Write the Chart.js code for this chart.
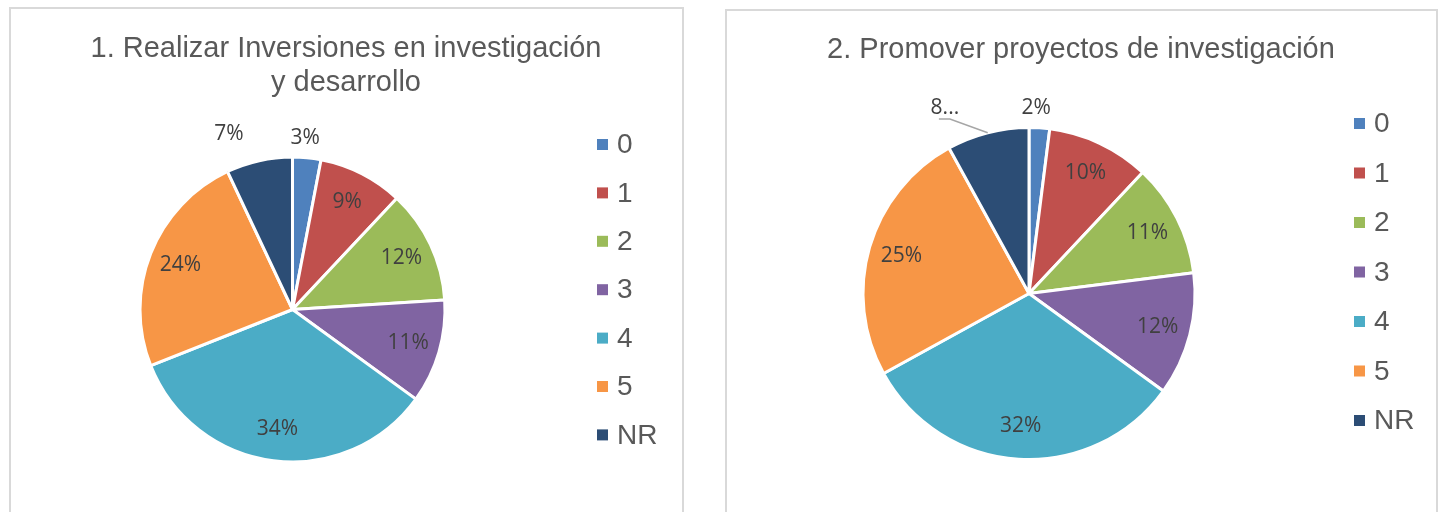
<!DOCTYPE html>
<html>
<head>
<meta charset="utf-8">
<script src="https://cdn.jsdelivr.net/npm/chart.js@4"></script>
<style>
  html, body { margin:0; padding:0; background:#fff; width:1440px; height:512px; overflow:hidden; }
  #wrap { position:relative; width:1440px; height:512px; }
  .box { position:absolute; border:2px solid #D9D9D9; box-sizing:border-box; background:#fff; }
  canvas { position:absolute; left:0; top:0; }
</style>
</head>
<body>
<div id="wrap">
  <div class="box" style="left:9px;top:7px;width:675px;height:560px;"></div>
  <div class="box" style="left:725px;top:9px;width:713px;height:560px;"></div>
  <canvas id="c1" width="1440" height="512"></canvas>
  <canvas id="c2" width="1440" height="512"></canvas>
</div>
<script>
// ---- data ----
const categories = ['0', '1', '2', '3', '4', '5', 'NR'];
const values1 = [3, 9, 12, 11, 34, 24, 7];
const values2 = [2, 10, 11, 12, 32, 25, 8];
const title1 = ['1. Realizar Inversiones en investigación', 'y desarrollo'];
const title2 = ['2. Promover proyectos de investigación'];
const colors = ['#4F81BD', '#C0504D', '#9BBB59', '#8064A2', '#4BACC6', '#F79646', '#2C4D75'];

// ---- custom drawing plugin (title, legend, data labels) ----
const decor = {
  id: 'decor',
  afterDatasetsDraw(chart, args, o) {
    const ctx = chart.ctx;
    ctx.save();
    // title
    ctx.fillStyle = '#595959';
    ctx.font = o.titleFont;
    ctx.textAlign = 'center';
    ctx.textBaseline = 'alphabetic';
    o.title.forEach((t, i) => ctx.fillText(t, o.titleX, o.titleY + i * o.titleLH));
    // legend
    ctx.textAlign = 'left';
    ctx.textBaseline = 'middle';
    ctx.font = '28px "Liberation Sans", Arial, sans-serif';
    chart.data.labels.forEach((lab, i) => {
      const y = o.legY + i * o.legStep;
      ctx.fillStyle = chart.data.datasets[0].backgroundColor[i];
      ctx.fillRect(o.legX, y - 5.5, 11, 11);
      ctx.fillStyle = '#595959';
      ctx.fillText(lab, o.legX + 20, y + 1);
    });
    // data labels
    const meta = chart.getDatasetMeta(0);
    const vals = chart.data.datasets[0].data;
    ctx.font = '21px "Open Sans", sans-serif';
    ctx.textAlign = 'center';
    ctx.textBaseline = 'middle';
    meta.data.forEach((arc, i) => {
      const p = arc.getProps(['x', 'y', 'startAngle', 'endAngle', 'outerRadius'], true);
      const mid = (p.startAngle + p.endAngle) / 2;
      const out = o.outside[i];
      let txt = vals[i] + '%';
      let lx, ly;
      if (out) {
        const a = mid + out.shift * Math.PI / 180;
        const d = p.outerRadius + out.gap;
        lx = p.x + Math.cos(a) * d;
        ly = p.y + Math.sin(a) * d;
        if (out.trunc) txt = String(vals[i]) + '...';
        if (out.leader) {
          const ex = p.x + Math.cos(mid) * p.outerRadius;
          const ey = p.y + Math.sin(mid) * p.outerRadius;
          ctx.strokeStyle = '#A6A6A6';
          ctx.lineWidth = 1.5;
          ctx.beginPath();
          ctx.moveTo(lx - 6, ly + 11);
          ctx.lineTo(lx + 5, ly + 11);
          ctx.lineTo(ex, ey);
          ctx.stroke();
        }
      } else {
        lx = p.x + Math.cos(mid) * p.outerRadius * o.inRatio;
        ly = p.y + Math.sin(mid) * p.outerRadius * o.inRatio;
      }
      ctx.fillStyle = '#404040';
      ctx.fillText(txt, lx, ly);
    });
    ctx.restore();
  }
};

function makePie(id, values, title, pad, opts) {
  return new Chart(document.getElementById(id), {
    type: 'pie',
    data: {
      labels: categories,
      datasets: [{
        data: values,
        backgroundColor: colors,
        borderColor: '#FFFFFF',
        borderWidth: 3
      }]
    },
    options: {
      responsive: false,
      animation: false,
      events: [],
      layout: { padding: pad },
      plugins: {
        legend: { display: false },
        title: { display: false },
        tooltip: { enabled: false },
        decor: Object.assign({ title: title }, opts)
      }
    },
    plugins: [decor]
  });
}

makePie('c1', values1, title1,
  { left: 138.5, right: 993.5, top: 155.5, bottom: 48.5 },
  {
    titleFont: '29px "Liberation Sans", Arial, sans-serif',
    titleX: 346, titleY: 57, titleLH: 34,
    legX: 597, legY: 144.5, legStep: 48.4,
    inRatio: 0.79,
    outside: { 0: { gap: 19, shift: -1.2 }, 6: { gap: 34, shift: -7.3 } }
  });

makePie('c2', values2, title2,
  { left: 861.5, right: 243.5, top: 126, bottom: 51 },
  {
    titleFont: '29px "Liberation Sans", Arial, sans-serif',
    titleX: 1081, titleY: 58, titleLH: 34,
    legX: 1354, legY: 123.5, legStep: 49.5,
    inRatio: 0.8,
    outside: { 0: { gap: 20, shift: -1.4 }, 6: { gap: 37.6, shift: -10, trunc: true, leader: true } }
  });
</script>
</body>
</html>
